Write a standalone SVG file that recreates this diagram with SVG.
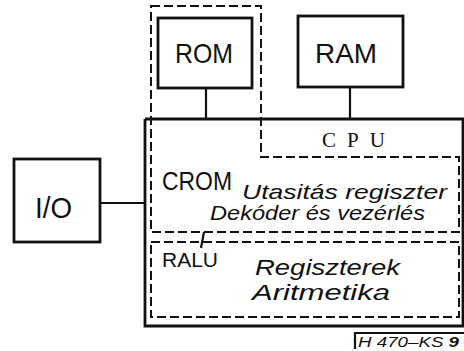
<svg xmlns="http://www.w3.org/2000/svg" width="464" height="351" viewBox="0 0 464 351">
<style>
.box{fill:none;stroke:#111;stroke-width:2.8}
.dash{fill:none;stroke:#111;stroke-width:2;stroke-dasharray:9 4}
.wire{fill:none;stroke:#111;stroke-width:2.2}
.sans{font-family:"Liberation Sans",Arial,sans-serif;fill:#111}
.ital{font-family:"Liberation Sans",Arial,sans-serif;font-style:italic;fill:#111}
.serif{font-family:"Liberation Serif","Times New Roman",serif;fill:#111}
</style>
<rect width="464" height="351" fill="#fff"/>
<g id="connectors">
<line class="wire" x1="206" y1="88" x2="206" y2="119"/>
<line class="wire" x1="350" y1="87" x2="350" y2="119"/>
<line class="wire" x1="100" y1="203" x2="145" y2="203"/>
<line class="wire" x1="204" y1="232" x2="201" y2="248" stroke-width="1.5"/>
</g>
<g id="cpu">
<path class="box" d="M145,119 H466 M145,119 V326 H466 M463,119 V326"/>
<text class="serif" x="322" y="147" font-size="21" textLength="63" lengthAdjust="spacing">CPU</text>
</g>
<g id="crom">
<path class="dash" d="M151,6 H261 V157 H459 V232 H151 Z"/>
<text class="sans" x="162" y="190" font-size="26" textLength="70" lengthAdjust="spacingAndGlyphs">CROM</text>
<text class="ital" x="242" y="199" font-size="21" textLength="205" lengthAdjust="spacingAndGlyphs">Utasitás regiszter</text>
<text class="ital" x="210" y="220" font-size="21" textLength="215" lengthAdjust="spacingAndGlyphs">Dekóder és vezérlés</text>
</g>
<g id="ralu">
<rect class="dash" x="151" y="242" width="308" height="75"/>
<text class="sans" x="162" y="267" font-size="21" textLength="56" lengthAdjust="spacingAndGlyphs">RALU</text>
<text class="ital" x="255" y="275" font-size="22" textLength="145" lengthAdjust="spacingAndGlyphs">Regiszterek</text>
<text class="ital" x="252" y="300" font-size="22" textLength="138" lengthAdjust="spacingAndGlyphs">Aritmetika</text>
</g>
<g id="rom">
<rect class="box" x="158" y="18" width="94" height="70" stroke-width="3.2"/>
<text class="sans" x="175" y="63" font-size="28" textLength="58" lengthAdjust="spacingAndGlyphs">ROM</text>
</g>
<g id="ram">
<rect class="box" x="298" y="16" width="105" height="71"/>
<text class="sans" x="315" y="63" font-size="28" textLength="62" lengthAdjust="spacingAndGlyphs">RAM</text>
</g>
<g id="io">
<rect class="box" x="14" y="159" width="86" height="83"/>
<text class="sans" x="35" y="218" font-size="29" textLength="37" lengthAdjust="spacingAndGlyphs">I/O</text>
</g>
<g id="label">
<path class="wire" d="M464,333 H355 V349" stroke-width="1.5"/>
<text class="ital" x="358" y="347" font-size="15" textLength="101" lengthAdjust="spacingAndGlyphs">H 470–KS <tspan font-weight="bold">9</tspan></text>
</g>
</svg>
